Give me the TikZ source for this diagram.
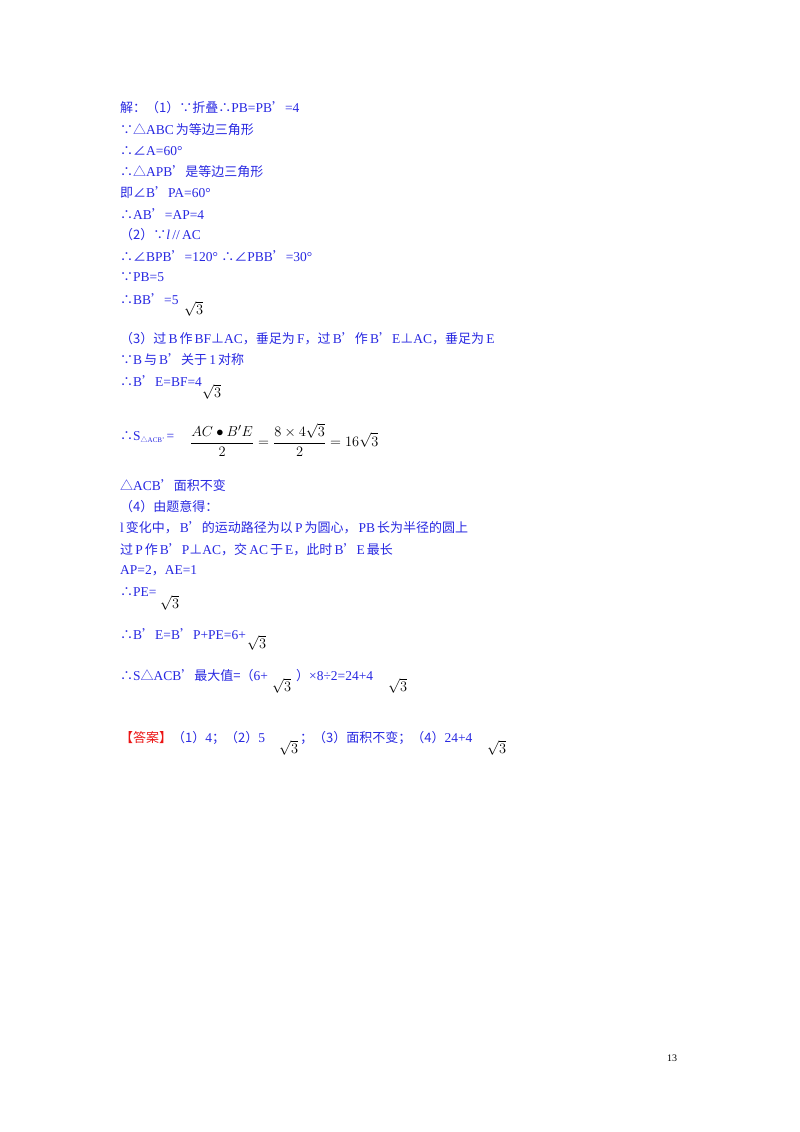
\documentclass[tikz,border=0pt]{standalone}
\usepackage{fontspec}
\setmainfont{Liberation Serif}
\newfontfamily\cjk{Noto Sans CJK SC}
\definecolor{ansblue}{RGB}{40,40,225}
\definecolor{ansred}{RGB}{235,20,20}
\tikzset{
  ln/.style={anchor=west, inner sep=0pt, text=ansblue, font=\fontsize{13.5}{15}\selectfont},
  rt/.style={anchor=west, inner sep=0pt, text=black, font=\fontsize{15}{17}\selectfont}
}
\newcommand{\zh}[1]{{\cjk\fontsize{13}{15}\selectfont #1}}
\newcommand{\zs}[1]{\hspace{2pt}{\cjk\fontsize{13}{15}\selectfont #1}\hspace{2pt}}
\begin{document}
\begin{tikzpicture}[x=1pt,y=-1pt]
\useasboundingbox (0,0) rectangle (800,1132);
\node[ln] (l1) at (120,108) {\zh{解：（1）∵折叠∴}PB=PB\zh{’}=4};
\node[ln] (l2) at (120,130) {\zh{∵△}ABC\zs{为等边三角形}};
\node[ln] (l3) at (120,151) {\zh{∴∠}A=60°};
\node[ln] (l4) at (120,172) {\zh{∴△}APB\zh{’是等边三角形}};
\node[ln] (l5) at (120,193) {\zh{即∠}B\zh{’}PA=60°};
\node[ln] (l6) at (120,214) {\zh{∴}AB\zh{’}=AP=4};
\node[ln] (l7) at (120,235) {\zh{（2）∵}\textit{l}\,//\,AC};
\node[ln] (l8) at (120,256) {\zh{∴∠}BPB\zh{’}=120° \zh{∴∠}PBB\zh{’}=30°};
\node[ln] (l9) at (120,277) {\zh{∵}PB=5};
\node[ln] (l10) at (120,299) {\zh{∴}BB\zh{’}=5};
\node[rt] (s10) at (184,309) {$\sqrt{3}$};
\node[ln] (l11) at (120,339) {\zh{（3）过}\,B\zs{作}BF\zh{⊥}AC\zh{，垂足为}\,F\zh{，过}\,B\zh{’作}\,B\zh{’}E\zh{⊥}AC\zh{，垂足为}\,E};
\node[ln] (l12) at (120,360) {\zh{∵}B\zs{与}B\zh{’关于}\,1\zs{对称}};
\node[ln] (l13) at (120,381) {\zh{∴}B\zh{’}E=BF=4};
\node[rt] (s13) at (202,392) {$\sqrt{3}$};
\node[ln] (l14) at (120,437) {\zh{∴}S\raisebox{-2pt}{\fontsize{7}{8}\selectfont{\cjk △}ACB'}\,=};
\node[rt] (f14) at (190,440) {$\displaystyle \frac{AC\bullet B'E}{2}=\frac{8\times4\sqrt{3}}{2}=16\sqrt{3}$};
\node[ln] (l15) at (120,486) {\zh{△}ACB\zh{’面积不变}};
\node[ln] (l16) at (120,507) {\zh{（4）由题意得：}};
\node[ln] (l17) at (120,528) {l\zs{变化中，}B\zh{’的运动路径为以}\,P\zs{为圆心，}PB\zs{长为半径的圆上}};
\node[ln] (l18) at (120,550) {\zh{过}\,P\zs{作}B\zh{’}P\zh{⊥}AC\zh{，交}\,AC\zs{于}E\zh{，此时}\,B\zh{’}E\zs{最长}};
\node[ln] (l19) at (120,571) {AP=2\zh{，}AE=1};
\node[ln] (l20) at (120,592) {\zh{∴}PE=};
\node[rt] (s20) at (160,603) {$\sqrt{3}$};
\node[ln] (l21) at (120,634) {\zh{∴}B\zh{’}E=B\zh{’}P+PE=6+};
\node[rt] (s21) at (247,643) {$\sqrt{3}$};
\node[ln] (l22) at (120,676) {\zh{∴}S\zh{△}ACB\zh{’最大值=（}6+};
\node[rt] (s22) at (272,686) {$\sqrt{3}$};
\node[ln] (l22b) at (296,676) {\zh{）}×8÷2=24+4};
\node[rt] (s22b) at (388,686) {$\sqrt{3}$};
\node[ln] (l23) at (120,738) {{\color{ansred}\zh{【答案】}}\zh{（1）}4\zh{；（2）}5};
\node[rt] (s23) at (279,748) {$\sqrt{3}$};
\node[ln] (l23b) at (300,738) {\zh{；（3）面积不变；（4）}24+4};
\node[rt] (s23b) at (487,748) {$\sqrt{3}$};
\node[anchor=center, inner sep=0pt, font=\fontsize{10}{12}\selectfont] (pg) at (672,1058) {13};
\end{tikzpicture}
\end{document}
